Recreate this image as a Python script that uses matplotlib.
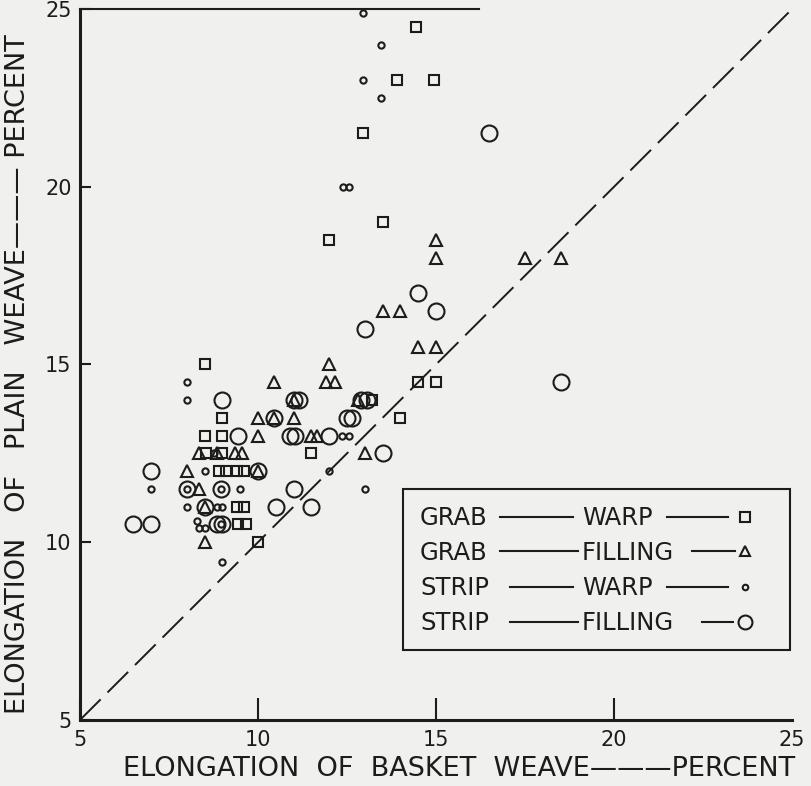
import matplotlib
matplotlib.use("Agg")
from matplotlib import pyplot as plt
from matplotlib.patches import Rectangle

# GRAB - WARP  (squares)
grabWarpX = [14.45, 13.9, 14.95, 12.95, 13.5, 12.0, 14.5, 15.0, 14.0, 8.5, 9.0, 8.5, 9.0,
             11.5, 13.2, 10.0, 8.55, 9.0, 8.9, 9.1, 9.4, 9.6, 9.4, 9.6, 9.45, 9.65]
grabWarpY = [24.5, 23.0, 23.0, 21.5, 19.0, 18.5, 14.5, 14.5, 13.5, 15.0, 13.5, 13.0, 13.0,
             12.5, 14.0, 10.0, 12.5, 12.5, 12.0, 12.0, 12.0, 12.0, 11.0, 11.0, 10.5, 10.5]

# GRAB - FILLING  (triangles)
grabFillX = [15.0, 15.0, 17.5, 18.5, 13.5, 14.0, 14.5, 15.0, 12.0, 11.9, 12.15, 10.45,
             12.8, 11.0, 10.0, 10.45, 11.0, 10.0, 11.5, 11.65, 13.0, 10.0, 8.0, 8.5,
             8.5, 8.35, 8.35, 8.85, 9.35, 9.55]
grabFillY = [18.5, 18.0, 18.0, 18.0, 16.5, 16.5, 15.5, 15.5, 15.0, 14.5, 14.5, 14.5,
             14.0, 14.0, 13.5, 13.5, 13.5, 13.0, 13.0, 13.0, 12.5, 12.0, 12.0, 10.0,
             11.0, 11.5, 12.5, 12.5, 12.5, 12.5]

# STRIP - WARP  (small circles)
stripWarpX = [12.95, 13.45, 12.95, 13.45, 12.4, 12.55, 8.0, 8.0, 12.35, 12.55, 12.0, 13.0,
              7.0, 8.0, 8.95, 9.5, 8.5, 8.0, 8.85, 9.0, 8.3, 8.35, 8.5, 8.95, 9.0, 8.75]
stripWarpY = [24.9, 24.0, 23.0, 22.5, 20.0, 20.0, 14.5, 14.0, 13.0, 13.0, 12.0, 11.5,
              11.5, 11.5, 11.5, 11.5, 12.0, 11.0, 11.0, 11.0, 10.6, 10.4, 10.4, 10.5, 9.45, 12.5]

# STRIP - FILLING  (large circles)
stripFillX = [16.5, 14.5, 15.0, 13.0, 18.5, 12.9, 13.05, 11.0, 11.15, 9.0, 10.45, 12.5,
              12.65, 9.45, 10.9, 11.05, 12.0, 13.5, 7.0, 10.0, 8.0, 8.95, 11.0, 8.5,
              10.5, 11.5, 6.5, 7.0, 8.85, 9.0]
stripFillY = [21.5, 17.0, 16.5, 16.0, 14.5, 14.0, 14.0, 14.0, 14.0, 14.0, 13.5, 13.5,
              13.5, 13.0, 13.0, 13.0, 13.0, 12.5, 12.0, 12.0, 11.5, 11.5, 11.5, 11.0,
              11.0, 11.0, 10.5, 10.5, 10.5, 10.5]

diagonal = [5, 25]
ticks = [5, 10, 15, 20, 25]

legendTest = ["GRAB", "GRAB", "STRIP", "STRIP"]
legendDir = ["WARP", "FILLING", "WARP", "FILLING"]

ink = '#1c1c1c'
paper = '#f0f0ee'

styles = [
    dict(marker='s', markersize=7),
    dict(marker='^', markersize=9),
    dict(marker='o', markersize=4.5),
    dict(marker='o', markersize=11.5),
]

fig = plt.figure(figsize=(8.12, 7.86), dpi=100, facecolor=paper)
ax = fig.add_axes([0.0985, 0.084, 0.877, 0.9046])
ax.set_facecolor(paper)

series = [(grabWarpX, grabWarpY), (grabFillX, grabFillY),
          (stripWarpX, stripWarpY), (stripFillX, stripFillY)]
for (xs, ys), st in zip(series, styles):
    ax.plot(xs, ys, linestyle='none', markerfacecolor='none', markeredgecolor=ink,
            markeredgewidth=1.5, clip_on=True, **st)

# line of equal elongation
ax.plot(diagonal, diagonal, color=ink, lw=1.4, dashes=(15, 5))

ax.set_xlim(5, 25)
ax.set_ylim(5, 25)
ax.set_xticks(ticks)
ax.set_yticks(ticks)
ax.tick_params(axis='x', direction='in', length=16, width=1.5, pad=7,
               labelsize=15, colors=ink)
ax.tick_params(axis='y', direction='in', length=8, width=1.5, pad=6,
               labelsize=15, colors=ink)
ax.xaxis.get_major_ticks()[-1].tick1line.set_visible(False)

for side in ['left', 'bottom']:
    ax.spines[side].set_linewidth(2.2)
    ax.spines[side].set_color(ink)
ax.spines['top'].set_linewidth(1.5)
ax.spines['top'].set_color(ink)
ax.spines['top'].set_bounds(5, 16.2)
ax.spines['right'].set_visible(False)

ax.set_xlabel("ELONGATION  OF  BASKET  WEAVE\u2014\u2014\u2014PERCENT",
              fontsize=19.5, color=ink)
ax.xaxis.set_label_coords(0.533, -0.05)
ax.set_ylabel("ELONGATION   OF   PLAIN   WEAVE\u2014\u2014\u2014 PERCENT",
              fontsize=19.5, color=ink)
ax.yaxis.set_label_coords(-0.069, 0.487)

# legend box drawn by hand, like the original lettering
ax.add_patch(Rectangle((0.4537, 0.0985), 0.543, 0.2265, transform=ax.transAxes,
                       facecolor=paper, edgecolor=ink, lw=1.5, zorder=3))
rowsY = [0.286, 0.237, 0.1875, 0.138]
firstLine = [(0.590, 0.692), (0.590, 0.699), (0.604, 0.692), (0.604, 0.699)]
secondLine = [(0.824, 0.910), (0.860, 0.920), (0.824, 0.910), (0.874, 0.917)]
legendSizes = [6.5, 7, 4, 10]
for i in range(4):
    y = rowsY[i]
    ax.text(0.4775, y - 0.012, legendTest[i], transform=ax.transAxes, fontsize=17.5,
            color=ink, va='baseline', ha='left', zorder=4)
    ax.text(0.705, y - 0.012, legendDir[i], transform=ax.transAxes, fontsize=17.5,
            color=ink, va='baseline', ha='left', zorder=4)
    ax.plot(firstLine[i], [y, y], transform=ax.transAxes, color=ink, lw=1.5, zorder=4)
    ax.plot(secondLine[i], [y, y], transform=ax.transAxes, color=ink, lw=1.5, zorder=4)
    ax.plot([0.934], [y], transform=ax.transAxes, linestyle='none',
            marker=styles[i]['marker'], markersize=legendSizes[i],
            markerfacecolor='none', markeredgecolor=ink, markeredgewidth=1.5, zorder=4)

fig.savefig("out.png", dpi=100, facecolor=paper)
